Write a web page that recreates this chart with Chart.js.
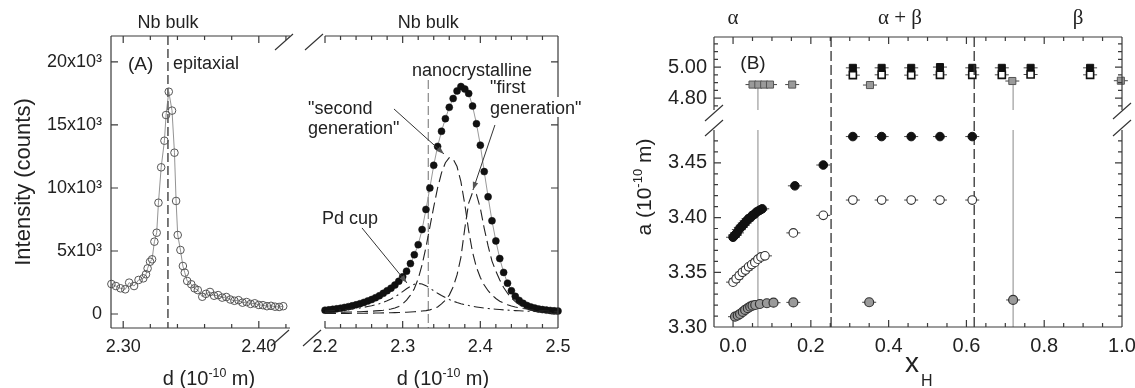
<!DOCTYPE html>
<html lang="en">
<head>
<meta charset="UTF-8">
<title>Nb lattice - XRD and lattice parameter</title>
<script src="https://cdn.jsdelivr.net/npm/chart.js"></script>
<style>
  body { margin: 0; background: #fff; }
  #wrap { position: relative; width: 1135px; height: 388px; }
  #wrap canvas { position: absolute; left: 0; top: 0; }
</style>
</head>
<body>
<div id="wrap">
  <canvas id="cA1" width="1135" height="388"></canvas>
  <canvas id="cA2" width="1135" height="388"></canvas>
  <canvas id="cBup" width="1135" height="388"></canvas>
  <canvas id="cBlow" width="1135" height="388"></canvas>
</div>
<script>
// ---------- panel A: diffraction peaks ----------
const nbBulk = 2.333;

// epitaxial film (open circles)
const epiD = [2.2913, 2.2946, 2.2980, 2.3015, 2.3044, 2.3080, 2.3113, 2.3148, 2.3168, 2.3180,
  2.3198, 2.3213, 2.3230, 2.3247, 2.3260, 2.3280, 2.3304, 2.3316, 2.3336, 2.3360,
  2.3378, 2.3390, 2.3402, 2.3422, 2.3440, 2.3454, 2.3472, 2.3502, 2.3526, 2.3550,
  2.3583, 2.3610, 2.3640, 2.3670, 2.3700, 2.3730, 2.3760, 2.3790, 2.3820, 2.3850,
  2.3880, 2.3910, 2.3940, 2.3970, 2.4000, 2.4030, 2.4060, 2.4090, 2.4120, 2.4150, 2.4180];
const epiI = [2380, 2220, 2040, 1960, 2490, 2220, 2700, 2830, 3150, 3620,
  4150, 4340, 5740, 6450, 8830, 11640, 13750, 15790, 17640, 16140,
  12800, 8970, 6270, 5080, 3810, 3280, 2620, 2360, 2040, 1900,
  1370, 1600, 1750, 1450, 1500, 1300, 1350, 1150, 1050, 1100,
  900, 950, 800, 850, 720, 700, 620, 650, 580, 560, 620];

// nanocrystalline film (filled circles) and the fitted components
const nanoD = [2.200, 2.205, 2.210, 2.215, 2.220, 2.225, 2.230, 2.235, 2.240, 2.245,
  2.250, 2.255, 2.260, 2.265, 2.270, 2.275, 2.280, 2.285, 2.290, 2.295,
  2.300, 2.305, 2.310, 2.315, 2.320, 2.325, 2.330, 2.335, 2.340, 2.345,
  2.350, 2.355, 2.360, 2.365, 2.370, 2.375, 2.380, 2.385, 2.390, 2.395,
  2.400, 2.405, 2.410, 2.415, 2.420, 2.425, 2.430, 2.435, 2.440, 2.445,
  2.450, 2.455, 2.460, 2.465, 2.470, 2.475, 2.480, 2.485, 2.490, 2.495, 2.500];
const nanoI = [300, 330, 370, 410, 460, 520, 580, 650, 730, 820,
  920, 1030, 1150, 1290, 1450, 1640, 1850, 2050, 2300, 2600,
  2950, 3400, 4000, 4700, 5500, 6700, 8300, 10000, 11800, 13300,
  14500, 15500, 16400, 17100, 17700, 18050, 17850, 17500, 16500, 15100,
  13400, 11300, 9300, 7400, 5800, 4400, 3300, 2450, 1850, 1400,
  1080, 850, 680, 560, 470, 400, 350, 310, 280, 255, 235];
const secondGen = [125, 130, 135, 140, 145, 150, 158, 165, 175, 185,
  195, 210, 225, 245, 270, 300, 340, 400, 480, 600,
  800, 1100, 1500, 2000, 2800, 3900, 5300, 6900, 8500, 10000,
  11200, 12000, 12400, 12300, 11700, 10500, 8700, 6600, 4900, 3700,
  2900, 2300, 1850, 1500, 1230, 1020, 860, 740, 640, 560,
  490, 440, 400, 360, 330, 300, 280, 260, 240, 225, 210];
const firstGen = [40, 42, 44, 46, 48, 50, 52, 55, 58, 61,
  64, 68, 72, 76, 81, 87, 94, 102, 110, 120,
  130, 145, 160, 180, 205, 235, 270, 330, 420, 560,
  800, 1100, 1500, 2150, 3100, 4500, 6800, 8800, 9650, 9500,
  8400, 6800, 5400, 4200, 3400, 2700, 2100, 1650, 1280, 980,
  750, 570, 430, 320, 250, 200, 165, 140, 120, 105, 95];
const pdCup = [230, 250, 270, 295, 320, 350, 380, 410, 445, 480,
  530, 590, 650, 730, 820, 930, 1060, 1200, 1370, 1560,
  1780, 2000, 2200, 2360, 2420, 2380, 2250, 2050, 1850, 1650,
  1470, 1300, 1150, 1020, 910, 820, 740, 670, 610, 560,
  515, 475, 440, 410, 380, 355, 330, 310, 290, 272,
  255, 240, 225, 212, 200, 190, 180, 170, 162, 155, 148];

// panel A ticks
const aIntTicks = [0, 5000, 10000, 15000, 20000];
const aIntLabels = ['0', '5x10³', '10x10³', '15x10³', '20x10³'];
const a1Ticks = [2.30, 2.32, 2.34, 2.36, 2.38, 2.40, 2.42];
const a1Major = [2.30, 2.40];
const a1Labels = ['2.30', '2.40'];
const a2Ticks = [2.20, 2.22, 2.24, 2.26, 2.28, 2.30, 2.32, 2.34, 2.36, 2.38, 2.40, 2.42, 2.44, 2.46, 2.48, 2.50];
const a2Major = [2.2, 2.3, 2.4, 2.5];
const a2Labels = ['2.2', '2.3', '2.4', '2.5'];

// ---------- panel B: lattice parameter vs x_H ----------
const xBlk = [0.000, 0.005, 0.010, 0.015, 0.020, 0.025, 0.030, 0.035, 0.040, 0.045, 0.050, 0.055,
  0.060, 0.065, 0.070, 0.075, 0.159, 0.232, 0.308, 0.382, 0.458, 0.532, 0.615];
const aBlk = [3.382, 3.384, 3.386, 3.389, 3.391, 3.393, 3.395, 3.397, 3.399, 3.400, 3.402, 3.403,
  3.405, 3.406, 3.407, 3.408, 3.429, 3.448, 3.474, 3.474, 3.474, 3.474, 3.474];
const xOpen = [0.000, 0.008, 0.016, 0.024, 0.032, 0.040, 0.048, 0.056, 0.064, 0.072, 0.082,
  0.155, 0.232, 0.308, 0.382, 0.458, 0.532, 0.615];
const aOpen = [3.341, 3.344, 3.347, 3.350, 3.352, 3.355, 3.357, 3.359, 3.362, 3.364, 3.365,
  3.386, 3.402, 3.416, 3.416, 3.416, 3.416, 3.416];
const xGray = [0.005, 0.012, 0.018, 0.025, 0.031, 0.038, 0.044, 0.050, 0.057, 0.069, 0.087,
  0.104, 0.155, 0.350, 0.720];
const aGray = [3.3094, 3.3105, 3.3119, 3.3138, 3.3156, 3.3172, 3.3186, 3.3195, 3.3201, 3.3210, 3.3217,
  3.3222, 3.3225, 3.3226, 3.3247];
const xGraySq = [0.050, 0.065, 0.080, 0.095, 0.152, 0.352, 0.718, 0.997];
const aGraySq = [4.887, 4.887, 4.887, 4.887, 4.887, 4.884, 4.910, 4.912];
const xSq = [0.308, 0.382, 0.458, 0.532, 0.615, 0.691, 0.765, 0.918];
const aBlkSq = [4.995, 4.995, 4.995, 5.000, 4.995, 4.995, 4.995, 4.995];
const aOpenSq = [4.948, 4.950, 4.948, 4.950, 4.950, 4.950, 4.952, 4.950];
const phaseBounds = [0.252, 0.62];
const guideX = [0.064, 0.72];
const guideTop = [4.887, 4.910];

const bXTicks = [0, 0.05, 0.1, 0.15, 0.2, 0.25, 0.3, 0.35, 0.4, 0.45, 0.5, 0.55, 0.6, 0.65, 0.7, 0.75, 0.8, 0.85, 0.9, 0.95, 1.0];
const bXMajor = [0, 0.2, 0.4, 0.6, 0.8, 1.0];
const bXLabels = ['0.0', '0.2', '0.4', '0.6', '0.8', '1.0'];
const bLowTicks = [3.30, 3.31, 3.32, 3.33, 3.34, 3.35, 3.36, 3.37, 3.38, 3.39, 3.40, 3.41, 3.42, 3.43, 3.44, 3.45, 3.46, 3.47];
const bLowMajor = [3.30, 3.35, 3.40, 3.45];
const bLowLabels = ['3.30', '3.35', '3.40', '3.45'];
const bUpTicks = [4.75, 4.80, 4.85, 4.90, 4.95, 5.00, 5.05, 5.10, 5.15];
const bUpMajor = [4.80, 5.00];
const bUpLabels = ['4.80', '5.00'];

// ---------- layout ----------
const W = 1135, H = 388;
const FONT = '"Liberation Sans", Arial, Helvetica, sans-serif';
const SERIF = '"Liberation Serif", "Times New Roman", serif';
const INK = '#222', AXIS = '#3a3a3a';
const A1 = {l: 111, t: 36, r: 290, b: 328};
const A2 = {l: 325, t: 36, r: 558, b: 328};
const BU = {l: 714, t: 37, r: 1122, b: 110};
const BL = {l: 714, t: 130, r: 1122, b: 327};

const pts = (xs, ys) => xs.map((x, i) => ({x, y: ys[i]}));
const near = (v, list) => list.some(m => Math.abs(m - v) < 1e-9);

function axis(min, max, vals, majors, labels, size, pad) {
  return {
    type: 'linear', min, max,
    grid: {display: false, drawTicks: false},
    border: {display: false},
    afterBuildTicks: s => { s.ticks = vals.map(v => ({value: v})); },
    ticks: {
      display: !!labels, autoSkip: false, maxRotation: 0, minRotation: 0,
      padding: pad, color: INK, font: {family: FONT, size: size},
      callback: v => {
        const k = majors.findIndex(m => Math.abs(m - v) < 1e-9);
        return labels && k >= 0 ? labels[k] : '';
      }
    }
  };
}

// the axes fill the whole margin, so the plot area lands exactly on `area`
function opts(area, xs, ys) {
  xs.afterFit = s => { s.height = H - area.b; s.paddingLeft = s.paddingRight = 0; };
  ys.afterFit = s => { s.width = area.l; s.paddingTop = s.paddingBottom = 0; };
  return {
    responsive: false, animation: false, devicePixelRatio: 1, events: [],
    layout: {padding: {left: 0, top: area.t, right: W - area.r, bottom: 0}},
    plugins: {legend: {display: false}, tooltip: {enabled: false}},
    scales: {x: xs, y: ys}
  };
}

// text helpers
function rich(ctx, parts, x, y, size, align) {
  const seg = parts.map(([t, k]) => {
    const s = k ? size * 0.62 : size;
    ctx.font = s + 'px ' + FONT;
    return {t, k, s, w: ctx.measureText(t).width};
  });
  const tw = seg.reduce((a, s) => a + s.w, 0);
  let cx = align === 'center' ? x - tw / 2 : align === 'right' ? x - tw : x;
  ctx.textAlign = 'left';
  ctx.textBaseline = 'alphabetic';
  for (const s of seg) {
    ctx.font = s.s + 'px ' + FONT;
    const dy = s.k > 0 ? -size * 0.4 : s.k < 0 ? size * 0.3 : 0;
    ctx.fillText(s.t, cx, y + dy);
    cx += s.w;
  }
}
function txt(ctx, s, x, cy, size, align, fam) {
  ctx.font = size + 'px ' + (fam || FONT);
  ctx.textAlign = align || 'left';
  ctx.textBaseline = 'alphabetic';
  ctx.fillText(s, x, cy + size * 0.36);
}
function arrow(ctx, x1, y1, x2, y2) {
  ctx.beginPath(); ctx.moveTo(x1, y1); ctx.lineTo(x2, y2); ctx.stroke();
  const g = Math.atan2(y2 - y1, x2 - x1), L = 8, w = 2.8;
  const bx = x2 - L * Math.cos(g), by = y2 - L * Math.sin(g);
  ctx.beginPath();
  ctx.moveTo(x2, y2);
  ctx.lineTo(bx + w * Math.sin(g), by - w * Math.cos(g));
  ctx.lineTo(bx - w * Math.sin(g), by + w * Math.cos(g));
  ctx.closePath(); ctx.fill();
}
function slash(ctx, cx, cy) {
  ctx.beginPath(); ctx.moveTo(cx - 9, cy + 8); ctx.lineTo(cx + 9, cy - 8); ctx.stroke();
}

// axis frame with inward ticks
function frame(cfg) {
  return {
    id: 'frame',
    beforeDatasetsDraw(chart) { if (cfg.under) cfg.under(chart); },
    afterDatasetsDraw(chart) {
      const {ctx, chartArea: a} = chart;
      const sx = chart.scales.x, sy = chart.scales.y;
      ctx.save();
      ctx.strokeStyle = AXIS; ctx.lineWidth = 1.2;
      ctx.beginPath();
      for (const s of cfg.sides) {
        if (s === 'L') { ctx.moveTo(a.left, a.top); ctx.lineTo(a.left, a.bottom); }
        if (s === 'R') { ctx.moveTo(a.right, a.top); ctx.lineTo(a.right, a.bottom); }
        if (s === 'T') { ctx.moveTo(a.left, a.top); ctx.lineTo(a.right, a.top); }
        if (s === 'B') { ctx.moveTo(a.left, a.bottom); ctx.lineTo(a.right, a.bottom); }
      }
      for (const [t, scale] of [[cfg.xt, sx], [cfg.yt, sy]]) {
        if (!t) continue;
        for (const v of t.vals) {
          const p = scale.getPixelForValue(v);
          const len = near(v, t.majors) ? 7 : 4;
          for (const s of t.sides) {
            if (s === 'B') { ctx.moveTo(p, a.bottom); ctx.lineTo(p, a.bottom - len); }
            if (s === 'T') { ctx.moveTo(p, a.top); ctx.lineTo(p, a.top + len); }
            if (s === 'L') { ctx.moveTo(a.left, p); ctx.lineTo(a.left + len, p); }
            if (s === 'R') { ctx.moveTo(a.right, p); ctx.lineTo(a.right - len, p); }
          }
        }
      }
      ctx.stroke();
      ctx.restore();
      if (cfg.over) { ctx.save(); cfg.over(chart); ctx.restore(); }
    }
  };
}

// horizontal error bars for panel B
const errBars = {
  id: 'errBars',
  beforeDatasetsDraw(chart) {
    const {ctx} = chart, sx = chart.scales.x, sy = chart.scales.y;
    ctx.save(); ctx.strokeStyle = '#444'; ctx.lineWidth = 1;
    ctx.beginPath();
    chart.data.datasets.forEach(ds => {
      if (!ds.errBar) return;
      ds.data.forEach(p => {
        const x = sx.getPixelForValue(p.x), y = sy.getPixelForValue(p.y);
        ctx.moveTo(x - 7, y); ctx.lineTo(x + 7, y);
      });
    });
    ctx.stroke(); ctx.restore();
  }
};

// ---------- A1: epitaxial ----------
new Chart(document.getElementById('cA1'), {
  type: 'scatter',
  data: {datasets: [{
    data: pts(epiD, epiI), showLine: true, borderColor: '#777', borderWidth: 0.8,
    pointRadius: 3.8, pointBorderColor: '#555', pointBorderWidth: 1,
    pointBackgroundColor: 'rgba(255,255,255,0)', clip: false
  }]},
  options: opts(A1,
    axis(2.291, 2.423, a1Ticks, a1Major, a1Labels, 18, 8),
    axis(-1110, 22060, aIntTicks, aIntTicks, aIntLabels, 18, 9)),
  plugins: [frame({
    sides: 'LTB',
    xt: {vals: a1Ticks, majors: a1Major, sides: 'TB'},
    yt: {vals: aIntTicks, majors: aIntTicks, sides: 'L'},
    under(chart) {
      const {ctx, chartArea: a} = chart, x = chart.scales.x.getPixelForValue(nbBulk);
      ctx.save(); ctx.strokeStyle = '#222'; ctx.lineWidth = 1.2; ctx.setLineDash([9, 4]);
      ctx.beginPath(); ctx.moveTo(x, a.top); ctx.lineTo(x, a.bottom); ctx.stroke(); ctx.restore();
    },
    over(chart) {
      const {ctx} = chart, x = chart.scales.x.getPixelForValue(nbBulk);
      ctx.fillStyle = INK;
      txt(ctx, 'Nb bulk', x, 22, 18, 'center');
      txt(ctx, '(A)', 128, 63, 19, 'left');
      txt(ctx, 'epitaxial', 173, 63, 18, 'left');
      ctx.save(); ctx.translate(22, 182); ctx.rotate(-Math.PI / 2);
      txt(ctx, 'Intensity (counts)', 0, 0, 22, 'center'); ctx.restore();
      rich(ctx, [['d (10', 0], ['-10', 1], [' m)', 0]], 209, 385, 20, 'center');
    }
  })]
});

// ---------- A2: nanocrystalline ----------
new Chart(document.getElementById('cA2'), {
  type: 'scatter',
  data: {datasets: [
    {data: pts(nanoD, pdCup), showLine: true, borderColor: '#222', borderWidth: 1.1,
      borderDash: [10, 4, 2, 4], pointRadius: 0},
    {data: pts(nanoD, secondGen), showLine: true, borderColor: '#222', borderWidth: 1.1,
      borderDash: [11, 5], pointRadius: 0},
    {data: pts(nanoD, firstGen), showLine: true, borderColor: '#222', borderWidth: 1.1,
      borderDash: [11, 5], pointRadius: 0},
    {data: pts(nanoD, nanoI), showLine: true, borderColor: '#999', borderWidth: 1,
      pointRadius: 3.5, pointBackgroundColor: '#111', pointBorderColor: '#111',
      pointBorderWidth: 0.5, clip: false}
  ]},
  options: opts(A2,
    axis(2.2, 2.5, a2Ticks, a2Major, a2Labels, 18, 8),
    axis(-1110, 22060, aIntTicks, aIntTicks, null, 18, 9)),
  plugins: [frame({
    sides: 'RTB',
    xt: {vals: a2Ticks, majors: a2Major, sides: 'TB'},
    yt: {vals: aIntTicks, majors: aIntTicks, sides: 'R'},
    under(chart) {
      const {ctx, chartArea: a} = chart, x = chart.scales.x.getPixelForValue(nbBulk);
      ctx.save(); ctx.strokeStyle = '#888'; ctx.lineWidth = 1.2; ctx.setLineDash([9, 4]);
      ctx.beginPath(); ctx.moveTo(x, 80); ctx.lineTo(x, a.bottom); ctx.stroke(); ctx.restore();
    },
    over(chart) {
      const {ctx} = chart, sx = chart.scales.x, sy = chart.scales.y;
      const P = (d, i) => [sx.getPixelForValue(d), sy.getPixelForValue(i)];
      ctx.fillStyle = INK;
      txt(ctx, 'Nb bulk', sx.getPixelForValue(nbBulk), 22, 18, 'center');
      txt(ctx, 'nanocrystalline', 472, 70, 18, 'center');
      txt(ctx, '"second', 308, 108, 18, 'left');
      txt(ctx, 'generation"', 308, 128, 18, 'left');
      txt(ctx, '"first', 490, 87, 18, 'left');
      ctx.font = '18px ' + FONT;
      const gw = ctx.measureText('generation"').width;
      ctx.fillStyle = '#fff'; ctx.fillRect(488, 97, gw + 4, 20);
      ctx.fillStyle = INK;
      txt(ctx, 'generation"', 490, 108, 18, 'left');
      txt(ctx, 'Pd cup', 350, 218, 18, 'center');
      ctx.strokeStyle = '#333'; ctx.fillStyle = '#555'; ctx.lineWidth = 1;
      arrow(ctx, ...P(2.2888, 16270), ...P(2.3532, 12700));
      arrow(ctx, ...P(2.4188, 15000), ...P(2.3905, 9840));
      arrow(ctx, ...P(2.2476, 6830), ...P(2.3055, 2460));
      ctx.fillStyle = INK;
      rich(ctx, [['d (10', 0], ['-10', 1], [' m)', 0]], 443, 385, 20, 'center');
      // axis breaks between the two halves
      ctx.strokeStyle = '#333'; ctx.lineWidth = 1.1;
      slash(ctx, 284, 42); slash(ctx, 314, 42);
      slash(ctx, 280, 338); slash(ctx, 312, 338);
    }
  })]
});

// ---------- B upper segment ----------
new Chart(document.getElementById('cBup'), {
  type: 'scatter',
  data: {datasets: [
    {data: pts(xSq, aOpenSq), errBar: true, pointStyle: 'rect', pointRadius: 5,
      pointBackgroundColor: '#fff', pointBorderColor: '#111', pointBorderWidth: 1.6, clip: false},
    {data: pts(xSq, aBlkSq), errBar: true, pointStyle: 'rect', pointRadius: 5,
      pointBackgroundColor: '#111', pointBorderColor: '#111', pointBorderWidth: 1, clip: false},
    {data: pts(xGraySq, aGraySq), errBar: true, pointStyle: 'rect', pointRadius: 5,
      pointBackgroundColor: '#9a9a9a', pointBorderColor: '#555', pointBorderWidth: 1, clip: false}
  ]},
  options: opts(BU,
    axis(-0.049, 1.0, bXTicks, bXMajor, null, 20, 7),
    axis(4.723, 5.194, bUpTicks, bUpMajor, bUpLabels, 20, 7)),
  plugins: [errBars, frame({
    sides: 'LTR',
    xt: {vals: bXTicks, majors: bXMajor, sides: 'T'},
    yt: {vals: bUpTicks, majors: bUpMajor, sides: 'LR'},
    under(chart) {
      const {ctx, chartArea: a} = chart, sx = chart.scales.x, sy = chart.scales.y;
      ctx.save(); ctx.strokeStyle = '#888'; ctx.lineWidth = 1;
      ctx.beginPath();
      guideX.forEach((g, i) => {
        const x = sx.getPixelForValue(g);
        ctx.moveTo(x, sy.getPixelForValue(guideTop[i])); ctx.lineTo(x, a.bottom);
      });
      ctx.stroke(); ctx.restore();
    }
  })]
});

// ---------- B lower segment ----------
new Chart(document.getElementById('cBlow'), {
  type: 'scatter',
  data: {datasets: [
    {data: pts(xGray, aGray), errBar: true, pointRadius: 4.5,
      pointBackgroundColor: '#9a9a9a', pointBorderColor: '#333', pointBorderWidth: 1.2, clip: false},
    {data: pts(xOpen, aOpen), errBar: true, pointRadius: 4.3,
      pointBackgroundColor: '#fff', pointBorderColor: '#333', pointBorderWidth: 1.1, clip: false},
    {data: pts(xBlk, aBlk), errBar: true, pointRadius: 4.3,
      pointBackgroundColor: '#111', pointBorderColor: '#111', pointBorderWidth: 1, clip: false}
  ]},
  options: opts(BL,
    axis(-0.049, 1.0, bXTicks, bXMajor, bXLabels, 20, 7),
    axis(3.30, 3.48, bLowTicks, bLowMajor, bLowLabels, 20, 7)),
  plugins: [errBars, frame({
    sides: 'LBR',
    xt: {vals: bXTicks, majors: bXMajor, sides: 'B'},
    yt: {vals: bLowTicks, majors: bLowMajor, sides: 'LR'},
    under(chart) {
      const {ctx, chartArea: a} = chart, sx = chart.scales.x;
      ctx.save();
      ctx.strokeStyle = '#888'; ctx.lineWidth = 1;
      ctx.beginPath();
      guideX.forEach(g => { const x = sx.getPixelForValue(g); ctx.moveTo(x, a.top); ctx.lineTo(x, a.bottom); });
      ctx.stroke();
      ctx.strokeStyle = '#333'; ctx.lineWidth = 1.3; ctx.setLineDash([10, 4]);
      ctx.beginPath();
      phaseBounds.forEach(g => { const x = sx.getPixelForValue(g); ctx.moveTo(x, BU.t); ctx.lineTo(x, a.bottom); });
      ctx.stroke();
      ctx.restore();
    },
    over(chart) {
      const {ctx} = chart, sx = chart.scales.x;
      ctx.fillStyle = INK;
      txt(ctx, 'α', sx.getPixelForValue(0), 16, 21, 'center', SERIF);
      txt(ctx, 'α + β', 900, 16, 21, 'center', SERIF);
      txt(ctx, 'β', 1078, 16, 21, 'center', SERIF);
      txt(ctx, '(B)', 753, 62, 19, 'center');
      ctx.save(); ctx.translate(643, 187); ctx.rotate(-Math.PI / 2);
      rich(ctx, [['a (10', 0], ['-10', 1], [' m)', 0]], 0, 7.5, 21, 'center'); ctx.restore();
      ctx.font = '28px ' + FONT; ctx.textAlign = 'left'; ctx.textBaseline = 'alphabetic';
      ctx.fillText('x', 905, 372);
      ctx.font = '16px ' + FONT; ctx.fillText('H', 921, 386);
      // broken y axis marks
      ctx.strokeStyle = '#333'; ctx.lineWidth = 1.1;
      slash(ctx, BL.l, 113); slash(ctx, BL.l, 128);
      slash(ctx, BL.r, 111); slash(ctx, BL.r, 128);
    }
  })]
});
</script>
</body>
</html>
